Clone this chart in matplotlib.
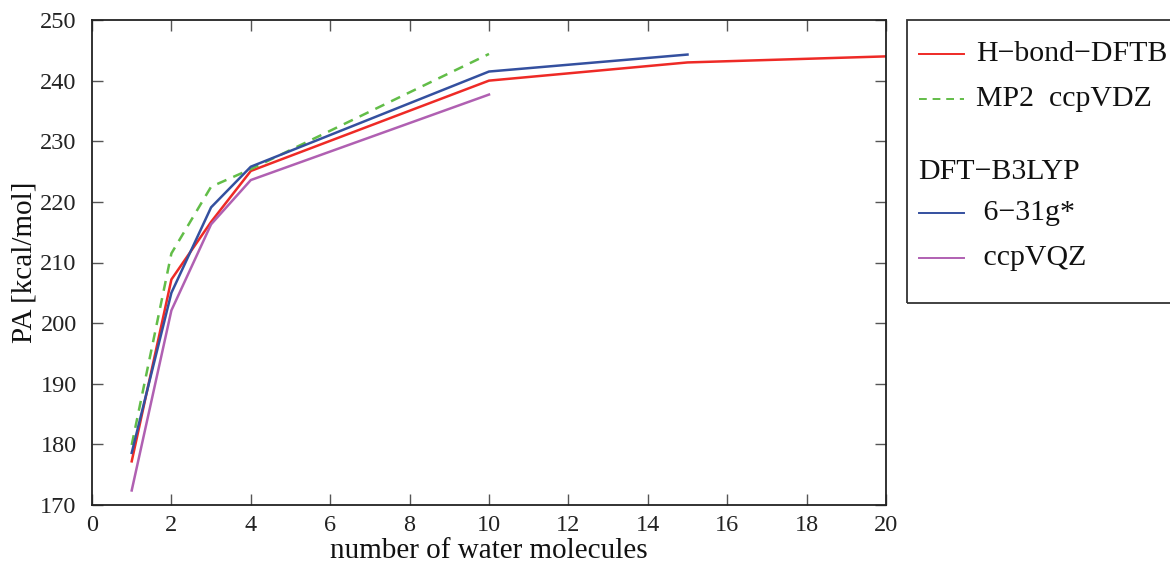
import numpy as np
import matplotlib
matplotlib.use('Agg')
import matplotlib.pyplot as plt
from matplotlib.lines import Line2D
from matplotlib.patches import Rectangle

plt.rcParams['font.family'] = ['Liberation Serif', 'DejaVu Serif']
plt.rcParams['mathtext.fontset'] = 'stix'

# proton affinity vs cluster size
n_dftb = [1, 2, 3, 4, 10, 15, 20]
pa_dftb = [177.2, 207.2, 216.7, 225.1, 240.0, 243.0, 244.0]

n_mp2 = [1, 2, 3, 4, 10]
pa_mp2 = [179.9, 211.5, 222.5, 225.4, 244.4]

n_631 = [1, 2, 3, 4, 10, 15]
pa_631 = [178.6, 205.0, 219.1, 225.8, 241.5, 244.3]

n_vqz = [1, 2, 3, 4, 10]
pa_vqz = [172.4, 202.1, 216.3, 223.6, 237.7]

c_red = '#ee2a26'
c_green = '#62bd48'
c_blue = '#34509f'
c_purple = '#b060b2'

W, H = 1170, 567
fig = plt.figure(figsize=(W / 100, H / 100), dpi=100)
ax = fig.add_axes([92 / W, 1 - 505 / H, (886 - 92) / W, (505 - 20) / H])

lw = 1.8
ax.plot(n_dftb, pa_dftb, color=c_red, lw=lw)
ax.plot(n_mp2, pa_mp2, color=c_green, lw=lw, ls=(0, (4, 3)))
ax.plot(n_631, pa_631, color=c_blue, lw=lw)
ax.plot(n_vqz, pa_vqz, color=c_purple, lw=lw)

ax.set_xlim(0, 20)
ax.set_ylim(170, 250)
ax.set_xticks(np.arange(0, 21, 2))
ax.set_yticks(np.arange(170, 251, 10))
ax.tick_params(direction='in', length=8, width=1.0, labelsize=17.5,
               top=True, right=True, colors='#555555', labelcolor='#222222')
ax.tick_params(axis='x', pad=7)
ax.tick_params(axis='y', pad=11)
for s in ax.spines.values():
    s.set_linewidth(1.3)
    s.set_color('#222222')

ax.set_xlabel('number of water molecules', fontsize=21, labelpad=2, color='#111111')
ax.set_ylabel('PA [kcal/mol]', fontsize=21, labelpad=2, color='#111111')


def fx(px):
    return px / W


def fy(py):
    return 1 - py / H


# legend box
fig.add_artist(Rectangle((fx(907), fy(303)), fx(1175) - fx(907), fy(20) - fy(303),
                         transform=fig.transFigure, fill=False, lw=1.3,
                         edgecolor='#333333'))

entries = [
    (54, c_red, '-', 'H\u2212bond\u2212DFTB', 976),
    (99, c_green, (0, (4, 3)), 'MP2  ccpVDZ', 976),
    (213, c_blue, '-', ' 6\u221231g*', 976),
    (258, c_purple, '-', ' ccpVQZ', 976),
]
for y, col, ls, label, tx in entries:
    fig.add_artist(Line2D([fx(919), fx(964)], [fy(y), fy(y)], color=col, lw=1.4,
                          ls=ls, transform=fig.transFigure))
    fig.text(fx(tx), fy(y), label, fontsize=21.5, va='center', ha='left', color='#111111')

fig.text(fx(918), fy(172), 'DFT\u2212B3LYP', fontsize=21.5, va='center', ha='left',
         color='#111111')

fig.savefig('out.png', dpi=100)
plt.close(fig)
